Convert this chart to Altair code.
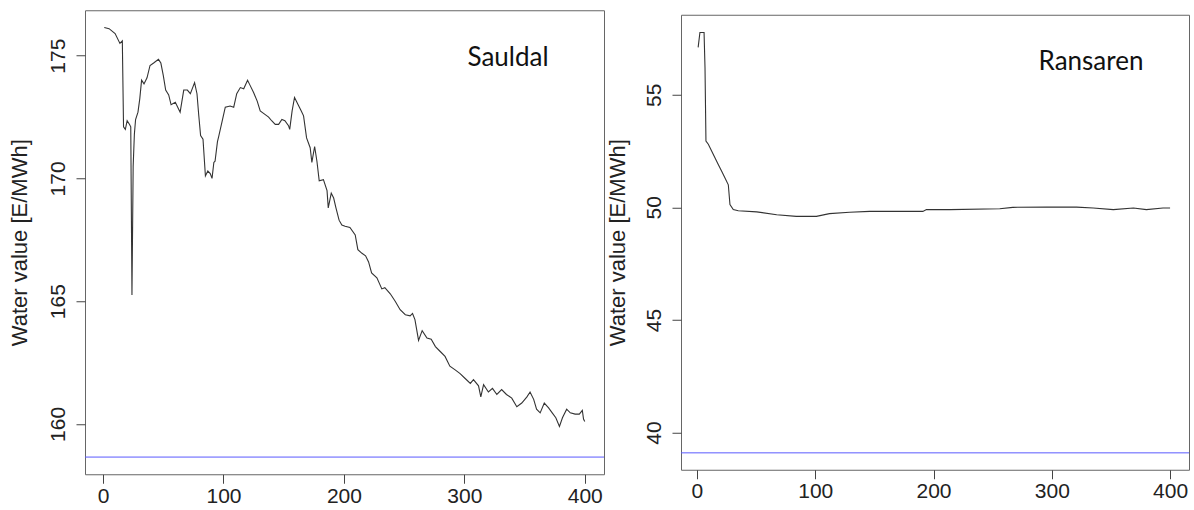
import altair as alt
import pandas as pd

# Sauldal series (x = stage, v = water value)
sauldal_x = [1, 5, 10, 14, 16, 17, 18.5, 20, 22, 23, 24, 25, 26, 27, 29, 30.5, 32, 34, 36.5, 39,
             42, 46, 48, 50, 52, 54.5, 56.5, 60, 63, 64, 67, 70, 72.5, 76, 78, 79.5, 81, 83, 85, 87,
             89, 90.5, 92, 93, 95, 96, 99, 101.5, 105.5, 108.5, 111, 114, 116.8, 120, 122, 125, 128,
             130.5, 134.7, 137.5, 140, 143, 145.8, 148.5, 151, 154, 155, 157, 159, 162, 164.6, 166.5,
             169, 172, 173.4, 175.7, 177.6, 179.5, 183, 186, 187, 189.5, 191.5, 193.4, 196, 198.3,
             201, 205, 209.4, 211.6, 215, 218, 220.5, 223, 227.4, 231.5, 234, 238.5, 242.6, 246.7,
             251, 255, 257, 259, 262, 265, 269, 272.5, 276, 280, 284, 288, 292.4, 296.5, 300.7, 305,
             307.6, 311.8, 313.7, 316, 320, 323.4, 327, 331, 335, 339.4, 343.6, 347.7, 352, 354.6,
             357.6, 360, 363, 366.4, 370, 373, 376, 379, 381.5, 385, 388, 392, 395.5, 398, 399, 400]
sauldal_v = [176.15, 176.1, 175.9, 175.5, 175.6, 172.1, 172.0, 172.35, 172.2, 172.1, 165.25, 170.5,
             171.8, 172.4, 172.7, 173.25, 174.0, 173.85, 174.1, 174.6, 174.7, 174.85, 174.7, 174.2,
             173.6, 173.4, 173.0, 173.1, 172.8, 172.7, 173.6, 173.6, 173.45, 173.9, 173.45, 172.55,
             171.75, 171.6, 170.1, 170.3, 170.2, 170.0, 170.65, 170.7, 171.5, 171.7, 172.35, 172.9,
             172.95, 172.9, 173.45, 173.7, 173.65, 174.0, 173.8, 173.5, 173.15, 172.75, 172.6, 172.5,
             172.35, 172.2, 172.2, 172.4, 172.35, 172.15, 172.0, 172.75, 173.3, 173.0, 172.75, 172.55,
             171.65, 171.25, 170.65, 171.3, 170.7, 169.9, 169.95, 169.5, 168.8, 169.4, 169.2, 168.8,
             168.3, 168.1, 168.05, 168.0, 167.7, 167.1, 166.95, 166.85, 166.6, 166.15, 165.95, 165.5,
             165.55, 165.3, 165.0, 164.65, 164.45, 164.4, 164.5, 164.25, 163.4, 163.8, 163.5, 163.45,
             163.15, 162.95, 162.75, 162.35, 162.2, 162.05, 161.85, 161.65, 161.8, 161.55, 161.1,
             161.6, 161.3, 161.45, 161.2, 161.4, 161.2, 161.05, 160.7, 160.85, 161.1, 161.3, 161.0,
             160.6, 160.45, 160.85, 160.65, 160.45, 160.25, 159.9, 160.25, 160.6, 160.45, 160.4,
             160.4, 160.55, 160.2, 160.1]
sauldal_level = [158.65]

# Ransaren series
ransaren_x = [1, 2.5, 6, 6.8, 7.6, 9.6, 12.4, 15.2, 18, 20.9, 23.7, 26.5, 27.9, 30.7, 34.9, 50.5,
              67.4, 84, 101, 112, 129, 146, 163, 191, 194, 214, 256, 267, 295.6, 321, 335, 352,
              369, 380, 394, 400]
ransaren_v = [57.1, 57.76, 57.76, 56.2, 52.94, 52.8, 52.5, 52.2, 51.9, 51.6, 51.3, 51.0, 50.12,
              49.9, 49.85, 49.8, 49.67, 49.6, 49.6, 49.72, 49.78, 49.82, 49.82, 49.82, 49.9, 49.9,
              49.94, 50.0, 50.01, 50.01, 49.97, 49.9, 49.97, 49.9, 49.97, 49.97]
ransaren_level = [39.1]

x_ticks = [0, 100, 200, 300, 400]
sauldal_yticks = [160, 165, 170, 175]
ransaren_yticks = [40, 45, 50, 55]
y_title = "Water value [E/MWh]"


def panel(xs, vs, level, name, x_dom, y_dom, yticks, w, h, lx, ly, tpad):
    df = pd.DataFrame({"x": xs, "v": vs})
    xenc = alt.X("x:Q", scale=alt.Scale(domain=x_dom, nice=False, zero=False),
                 axis=alt.Axis(values=x_ticks, title=None, labelPadding=2))
    yenc = alt.Y("v:Q", scale=alt.Scale(domain=y_dom, nice=False, zero=False),
                 axis=alt.Axis(values=yticks, title=y_title, labelAngle=270,
                               labelAlign="center", labelBaseline="alphabetic",
                               labelPadding=12, minExtent=36, maxExtent=36,
                               titlePadding=tpad))
    line = alt.Chart(df).mark_line(color="#333333", strokeWidth=1.1, clip=True).encode(
        x=xenc, y=yenc)
    rule = alt.Chart(pd.DataFrame({"v": level})).mark_rule(
        color="#5a5aff", strokeWidth=1).encode(y=alt.Y("v:Q"))
    text = alt.Chart(pd.DataFrame({"t": [name]})).mark_text(
        font="Lato", fontSize=26, color="#111111", align="center", baseline="middle").encode(
        text="t:N", x=alt.value(lx), y=alt.value(ly))
    return alt.layer(line, rule, text).properties(width=w, height=h)


left = panel(sauldal_x, sauldal_v, sauldal_level, "Sauldal", [-15, 416], [157.95, 176.85],
             sauldal_yticks, 519, 464, 423, 48, 18)
right = panel(ransaren_x, ransaren_v, ransaren_level, "Ransaren", [-13.5, 416], [38.35, 58.55],
              ransaren_yticks, 508, 455, 410, 47, 16)

chart = alt.hconcat(left, right, spacing=0, center=True).properties(
    padding={"left": 7, "top": 9, "right": 0, "bottom": 0},
    background="white",
).configure_view(
    stroke="#666666", strokeWidth=1
).configure_axis(
    domain=False, grid=False, tickColor="#444444", tickSize=9, tickWidth=1,
    labelFont="Liberation Sans", labelFontSize=21, labelColor="#222222",
    titleFont="Liberation Sans", titleFontSize=22, titleFontWeight="normal",
    titleColor="#222222",
)

chart.save("out.html", embed_options={"renderer": "svg", "actions": False})
